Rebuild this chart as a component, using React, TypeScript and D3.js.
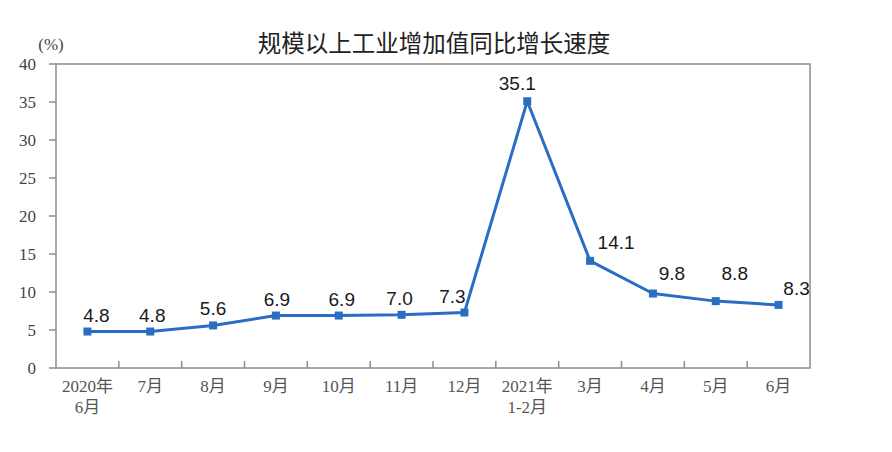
import React from "react";
import * as d3 from "d3";

const categories: string[][] = [
  ["2020年", "6月"], ["7月"], ["8月"], ["9月"], ["10月"], ["11月"], ["12月"],
  ["2021年", "1-2月"], ["3月"], ["4月"], ["5月"], ["6月"],
];
const values: number[] = [4.8, 4.8, 5.6, 6.9, 6.9, 7.0, 7.3, 35.1, 14.1, 9.8, 8.8, 8.3];
const yTicks: number[] = [0, 5, 10, 15, 20, 25, 30, 35, 40];
const title = "规模以上工业增加值同比增长速度";
const unit = "(%)";

// label offsets (layout only)
const labelDx = [9, 2, 0, 1, 3, -2, -12, -10, 26, 19, 19, 18];
const labelDy = [-10, -10, -10, -10, -10, -10, -10, -11, -12, -14, -21, -10];

const W = 892, H = 452;
const M = { left: 56, right: 82, top: 64, bottom: 84 };

export default function App() {
  const x = d3.scaleBand<number>()
    .domain(d3.range(categories.length))
    .range([M.left, W - M.right]);
  const y = d3.scaleLinear().domain([0, 40]).range([H - M.bottom, M.top]);
  const cx = (i: number) => (x(i) as number) + x.bandwidth() / 2;
  const line = d3.line<number>().x((_, i) => cx(i)).y((d) => y(d));
  const axisColor = "#8c8c8c";
  const blue = "#2a6ec4";
  const serif = "'Liberation Serif', 'Noto Sans CJK SC', serif";
  const sans = "'Liberation Sans', Arial, sans-serif";
  const tickXs = d3.range(1, categories.length).map((i) => x(i) as number);

  return (
    <svg width={W} height={H} style={{ position: "absolute", left: 0, top: 0, background: "#fff" }}>
      <text x={434} y={52} textAnchor="middle" fontSize={23.5}
        fontFamily="'Noto Sans CJK SC', sans-serif" fill="#222" fontWeight={400}>{title}</text>
      <text x={51} y={50} textAnchor="middle" fontSize={17} fontFamily={serif} fill="#444">{unit}</text>
      <rect x={M.left} y={M.top} width={W - M.left - M.right} height={H - M.top - M.bottom}
        fill="none" stroke={axisColor} strokeWidth={1.5} />
      {yTicks.map((t) => (
        <g key={t}>
          <line x1={M.left - 7} x2={M.left} y1={y(t)} y2={y(t)} stroke={axisColor} strokeWidth={1.5} />
          <text x={M.left - 20} y={y(t)} dy="0.36em" textAnchor="end" fontSize={17}
            fontFamily={serif} fill="#444">{t}</text>
        </g>
      ))}
      {tickXs.map((tx, i) => (
        <line key={i} x1={tx} x2={tx} y1={H - M.bottom} y2={H - M.bottom - 7} stroke={axisColor} strokeWidth={1.5} />
      ))}
      {categories.map((c, i) => (
        <text key={i} textAnchor="middle" fontSize={17} fontFamily={serif} fill="#555">
          {c.map((s, j) => (
            <tspan key={j} x={cx(i)} y={H - M.bottom + 24 + j * 21}>{s}</tspan>
          ))}
        </text>
      ))}
      <path d={line(values) || ""} fill="none" stroke={blue} strokeWidth={3} strokeLinejoin="round" />
      {values.map((v, i) => (
        <rect key={i} x={cx(i) - 4} y={y(v) - 4} width={8} height={8} fill={blue} />
      ))}
      {values.map((v, i) => (
        <text key={i} x={cx(i) + labelDx[i]} y={y(v) + labelDy[i]} textAnchor="middle"
          fontSize={19} fontFamily={sans} fill="#1a1a1a">{v.toFixed(1)}</text>
      ))}
    </svg>
  );
}
